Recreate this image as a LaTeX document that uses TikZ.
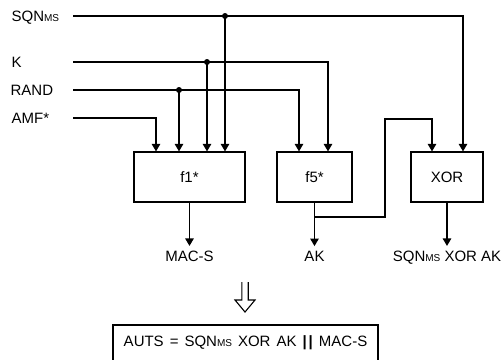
\documentclass[tikz,border=0pt]{standalone}
\usepackage{fontspec}
\setmainfont{Liberation Sans}
\usetikzlibrary{arrows.meta}
\newcommand{\mssub}{{\fontsize{10}{10}\selectfont MS}}
\begin{document}
\begin{tikzpicture}[x=1pt,y=-1pt,line width=1.2pt,
  font=\fontsize{15}{18}\selectfont,
  box/.style={draw,line width=1.2pt,inner sep=0pt},
  lbl/.style={inner sep=0pt},
  arr/.style={-{Triangle[length=7.5pt,width=8.5pt]}},
  jdot/.style={circle,fill,inner sep=0pt,minimum size=6pt}]
\useasboundingbox (0,0) rectangle (503,359);
% boxes
\node[box,minimum width=111pt,minimum height=50pt] (f1) at (189.5,177) {f1*};
\node[box,minimum width=75pt,minimum height=50pt] (f5) at (314.5,177) {f5*};
\node[box,minimum width=72pt,minimum height=50pt] (xor) at (447,177) {XOR};
% input labels
\node[lbl,anchor=base west] (lsqn) at (11,21.5) {SQN\mssub};
\node[lbl,anchor=base west] (lk) at (11,67.5) {K};
\node[lbl,anchor=base west] (lrand) at (10,95.5) {RAND};
\node[lbl,anchor=base west] (lamf) at (11,123.5) {AMF*};
% line starts
\coordinate (s1) at (73,16);
\coordinate (s2) at (73,62);
\coordinate (s3) at (73,90);
\coordinate (s4) at (73,118);
% junction dots
\node[jdot] (j1) at (225,16) {};
\node[jdot] (j2) at (207,62) {};
\node[jdot] (j3) at (179,90) {};
% input lines
\draw[arr] (s1) -| ([xshift=16pt]xor.north);
\draw[arr] (s2) -| ([xshift=13.5pt]f5.north);
\draw[arr] (s3) -| ([xshift=-15.5pt]f5.north);
\draw[arr] (s4) -| ([xshift=-33.5pt]f1.north);
\draw[arr] (j1.center) -- (j1.center |- f1.north);
\draw[arr] (j2.center) -- (j2.center |- f1.north);
\draw[arr] (j3.center) -- (j3.center |- f1.north);
% output labels
\node[lbl,anchor=base] (lmac) at (189.5,261) {MAC-S};
\node[lbl,anchor=base] (lak) at (314.5,261) {AK};
\node[lbl,anchor=base] (lxo) at (447,261) {SQN\mssub{} XOR AK};
% outputs
\draw[arr] (f1.south) -- ([yshift=4pt]lmac.north);
\draw[arr] (f5.south) -- ([yshift=4pt]lak.north);
\draw[arr] (xor.south) -- ([yshift=4pt]lxo.north);
% AK feedback to XOR
\coordinate (jak) at (314.5,217);
\coordinate (bend) at (385,119);
\draw[arr] (jak) -| (bend) -| ([xshift=-15pt]xor.north);
% implication arrow
\draw[line width=1.1pt,line join=miter] (241.8,282) -- (241.8,300) -- (235,300) -- (245,312) -- (255,300) -- (248.2,300) -- (248.2,282);
% result box
\node[box,minimum width=265pt,minimum height=36pt,xshift=0pt] (auts) at (245.5,343)
  {\spaceskip=6pt plus 1pt\relax AUTS = SQN\mssub{} XOR AK \textbf{|\kern2pt|} MAC-S};
\end{tikzpicture}
\end{document}
